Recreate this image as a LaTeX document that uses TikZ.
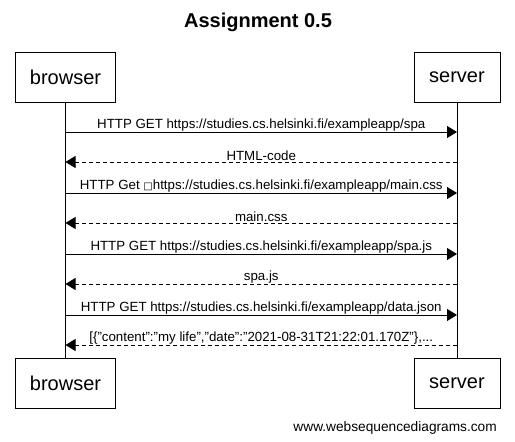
\documentclass[tikz,border=0pt]{standalone}
\usepackage{fontspec}
\setmainfont{Liberation Sans}
\newfontfamily\symfont{DejaVu Sans}
\usetikzlibrary{arrows.meta}
\begin{document}
\begin{tikzpicture}[x=1pt,y=-1pt,
  actor/.style={draw,line width=0.8pt,minimum height=50pt,font=\fontsize{20}{24}\selectfont,inner sep=0pt},
  lifeline/.style={line width=0.8pt},
  req/.style={line width=0.8pt,-{Triangle[length=10pt,width=12pt]}},
  resp/.style={line width=0.8pt,dash pattern=on 4pt off 3pt,-{Triangle[length=10pt,width=12pt]}},
  lbl/.style={font=\fontsize{13.3}{15}\selectfont,inner sep=0.5pt,anchor=south}]
\useasboundingbox[fill=white] (0,0) rectangle (515,442);
\node[font=\bfseries\fontsize{20}{24}\selectfont] (title) at (258,22) {Assignment 0.5};
\node[actor,minimum width=100pt] (bt) at (65.5,77) {browser};
\node[actor,minimum width=86pt] (st) at (457,77) {server};
\node[actor,minimum width=100pt] (bb) at (65.5,383) {browser};
\node[actor,minimum width=86pt] (sb) at (457,383) {server};
\draw[lifeline] (bt.south) -- (bb.north);
\draw[lifeline] (st.south) -- (sb.north);
\foreach \n/\y in {1/132,2/162,3/193,4/223,5/254,6/284,7/315,8/345}{
  \coordinate (b\n) at (65.5,\y);
  \coordinate (s\n) at (457,\y);
}
\draw[req] (b1) -- node[lbl] {HTTP GET https://studies.cs.helsinki.fi/exampleapp/spa} (s1);
\draw[resp] (s2) -- node[lbl] {HTML-code} (b2);
\draw[req] (b3) -- node[lbl] {HTTP Get {\symfont\fontsize{10}{11}\selectfont □}https://studies.cs.helsinki.fi/exampleapp/main.css} (s3);
\draw[resp] (s4) -- node[lbl] {main.css} (b4);
\draw[req] (b5) -- node[lbl] {HTTP GET https://studies.cs.helsinki.fi/exampleapp/spa.js} (s5);
\draw[resp] (s6) -- node[lbl] {spa.js} (b6);
\draw[req] (b7) -- node[lbl] {HTTP GET https://studies.cs.helsinki.fi/exampleapp/data.json} (s7);
\draw[resp] (s8) -- node[lbl] {[\{"content":"my life","date":"2021-08-31T21:22:01.170Z"\},...} (b8);
\node[font=\fontsize{13.7}{16}\selectfont,anchor=east,inner sep=0pt] (foot) at (497,428) {www.websequencediagrams.com};
\end{tikzpicture}
\end{document}
